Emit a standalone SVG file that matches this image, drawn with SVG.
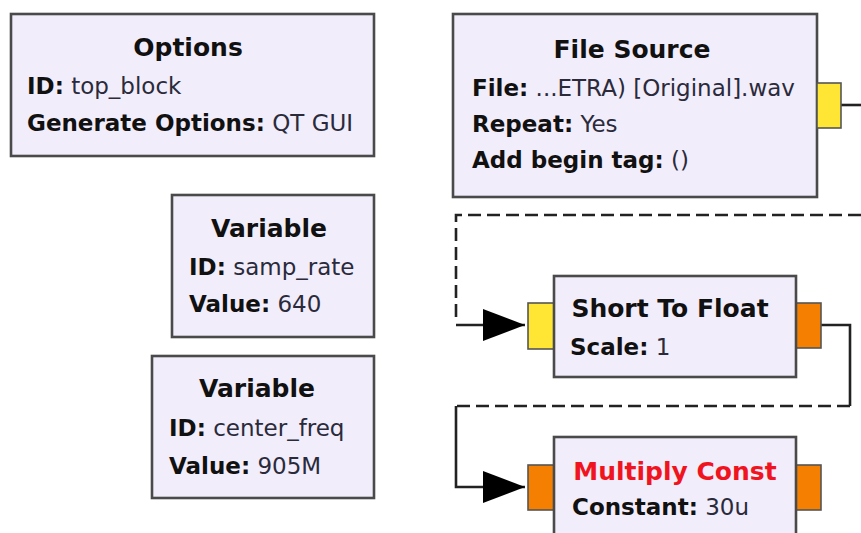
<svg xmlns="http://www.w3.org/2000/svg" width="861" height="533" viewBox="0 0 861 533">
<style>
.blk{fill:#f1edfb;stroke:#4a4a4a;stroke-width:2.6}
.t{font-family:"DejaVu Sans",Verdana,sans-serif;font-size:25px;font-weight:bold;fill:#111;text-anchor:middle}
.l{font-family:"DejaVu Sans",Verdana,sans-serif;font-size:23px;fill:#2a2a3a}
.l tspan.k{font-weight:bold;fill:#111}
.ps{fill:#ffe634;stroke:#555;stroke-width:1.6}
.pf{fill:#f57f00;stroke:#555;stroke-width:1.6}
.c{fill:none;stroke:#222;stroke-width:2.6}
.d{fill:none;stroke:#222;stroke-width:2.6;stroke-dasharray:13 6}
</style>
<defs>
<marker id="ah" markerUnits="userSpaceOnUse" markerWidth="44" markerHeight="34" refX="42" refY="16" orient="auto" viewBox="0 0 44 34">
<path d="M0,0 L42,16 L0,32 z" fill="#000"/>
</marker>
</defs>
<g id="connectors">
<path class="c" d="M841,105 H861"/>
<path class="d" d="M861,215 H456 V318"/>
<path class="c" d="M456,325 H525" marker-end="url(#ah)"/>
<path class="c" d="M821,325 H850 V406"/>
<path class="d" d="M850,406 H456"/>
<path class="c" d="M456,406 V487 H525" marker-end="url(#ah)"/>
</g>
<g id="options">
<rect class="blk" x="11" y="14" width="363" height="142"/>
<text class="t" x="188" y="56">Options</text>
<text class="l" x="27" y="94"><tspan class="k">ID:</tspan> top_block</text>
<text class="l" x="27" y="131"><tspan class="k">Generate Options:</tspan> QT GUI</text>
</g>
<g id="file_source">
<rect class="blk" x="453" y="14" width="364" height="183"/>
<rect class="ps" x="817" y="83" width="24" height="45"/>
<text class="t" x="632" y="58">File Source</text>
<text class="l" x="472" y="96"><tspan class="k">File:</tspan> ...ETRA) [Original].wav</text>
<text class="l" x="472" y="132"><tspan class="k">Repeat:</tspan> Yes</text>
<text class="l" x="472" y="168"><tspan class="k">Add begin tag:</tspan> ()</text>
</g>
<g id="var_samp_rate">
<rect class="blk" x="172" y="195" width="202" height="142"/>
<text class="t" x="269" y="237">Variable</text>
<text class="l" x="189" y="275"><tspan class="k">ID:</tspan> samp_rate</text>
<text class="l" x="189" y="312"><tspan class="k">Value:</tspan> 640</text>
</g>
<g id="var_center_freq">
<rect class="blk" x="152" y="356" width="222" height="142"/>
<text class="t" x="257" y="397">Variable</text>
<text class="l" x="169" y="436"><tspan class="k">ID:</tspan> center_freq</text>
<text class="l" x="169" y="474"><tspan class="k">Value:</tspan> 905M</text>
</g>
<g id="short_to_float">
<rect class="ps" x="528" y="303" width="26" height="46"/>
<rect class="pf" x="796" y="303" width="25" height="45"/>
<rect class="blk" x="554" y="276" width="242" height="101"/>
<text class="t" x="670" y="317">Short To Float</text>
<text class="l" x="570" y="355"><tspan class="k">Scale:</tspan> 1</text>
</g>
<g id="multiply_const">
<rect class="pf" x="528" y="465" width="26" height="45"/>
<rect class="pf" x="796" y="465" width="25" height="45"/>
<rect class="blk" x="554" y="437" width="242" height="110"/>
<text class="t" x="675" y="480" style="fill:#f0141e">Multiply Const</text>
<text class="l" x="572" y="515"><tspan class="k">Constant:</tspan> 30u</text>
</g>
</svg>
